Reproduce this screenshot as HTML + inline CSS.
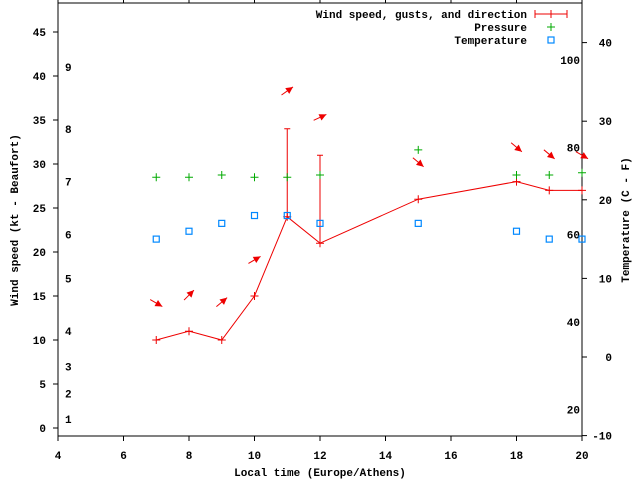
<!DOCTYPE html>
<html><head><meta charset="utf-8"><style>
body{margin:0;background:#fff}
svg text{font-family:"Liberation Mono",monospace;font-weight:bold;font-size:11px}
</style></head><body>
<svg id="c" width="640" height="480" xmlns="http://www.w3.org/2000/svg"></svg>
<script>
const hours=[7,8,9,10,11,12,15,18,19,20];
const windKt=[10,11,10,15,24,21,26,28,27,27];
const gustHours=[11,12];
const gustKt=[34,31];
const pressure=[28.5,28.5,28.75,28.5,28.5,28.75,31.6,28.75,28.75,29.0];
const tempC=[15,16,17,18,18,17,17,16,15,15];
const arrowLevel=[14.2,15.1,14.3,19.1,38.3,35.3,30.2,31.9,31.1,31];
const arrowAngle=[30,-45,-40,-30,-35,-25,40,40,40,30];
const xTicks=[4,6,8,10,12,14,16,18,20];
const yTicks=[0,5,10,15,20,25,30,35,40,45];
const cTicks=[-10,0,10,20,30,40];
const fTicks=[20,40,60,80,100];
const bftLabels=[1,2,3,4,5,6,7,8,9];
const bftKt=[1,3.9,7,11,17,22,28,34,41];

const L=58,R=582,T=3,B=436;
const sx=h=>L+(h-4)*(R-L)/16;
const sy=v=>428-v*8.8;
const sc=c=>357-c*7.86;
const NS="http://www.w3.org/2000/svg";
const svg=document.getElementById('c');
function mk(tag,attrs,parent){const e=document.createElementNS(NS,tag);for(const k in attrs)e.setAttribute(k,attrs[k]);(parent||svg).appendChild(e);return e;}
function txt(x,y,s,anchor,extra){const e=mk('text',Object.assign({x:x,y:y,'text-anchor':anchor||'start'},extra||{}));e.textContent=s;return e;}

let f=mk('rect',{x:L,y:T,width:R-L,height:B-T,fill:'none',stroke:'#000','stroke-width':1});



xTicks.forEach(t=>{
  const x=sx(t);
  let l=mk('line',{x1:x,y1:B,x2:x,y2:B+5,stroke:'#000'});
  
  
  mk('line',{x1:x,y1:T,x2:x,y2:T-5,stroke:'#000'});
  let e=txt(x,459,String(t),'middle');
  
  
});
yTicks.forEach(t=>{
  const y=sy(t);
  let l=mk('line',{x1:L,y1:y,x2:L-5,y2:y,stroke:'#000'});
  
  
  let e=txt(46,y+4,String(t),'end');
  
  
});
cTicks.forEach(t=>{
  const y=sc(t);
  let l=mk('line',{x1:R,y1:y,x2:R+5,y2:y,stroke:'#000'});
  
  
  let e=txt(612,y+4,String(t),'end');
  
  
});
fTicks.forEach(t=>{
  const y=sc((t-32)*5/9);
  let e=txt(580,y+4,String(t),'end');
  
  
});
bftLabels.forEach((b,i)=>{
  let e=txt(65,sy(bftKt[i])+4,String(b),'start');
  
  
});

let t1=txt(0,0,'Wind speed (kt - Beaufort)','middle',{transform:'translate(18,220) rotate(-90)'});


let t2=txt(0,0,'Temperature (C - F)','middle',{transform:'translate(629,220) rotate(-90)'});


let t3=txt(320,476,'Local time (Europe/Athens)','middle');



// gust bars
gustHours.forEach((h,i)=>{
  const j=hours.indexOf(h);const x=sx(h);
  let g=mk('path',{d:`M${x},${sy(windKt[j])}V${sy(gustKt[i])}M${x-3},${sy(gustKt[i])}H${x+3}`,stroke:'#e00',fill:'none'});
  
  
});
// wind line
let pl=mk('polyline',{points:hours.map((h,i)=>sx(h)+','+sy(windKt[i])).join(' '),fill:'none',stroke:'#e00'});


hours.forEach((h,i)=>{
  const x=sx(h),y=sy(windKt[i]);
  let p=mk('path',{d:`M${x-4},${y}H${x+4}M${x},${y-4}V${y+4}`,stroke:'#e00'});
  
  
});
// pressure
hours.forEach((h,i)=>{
  const x=sx(h),y=sy(pressure[i]);
  let p=mk('path',{d:`M${x-4},${y}H${x+4}M${x},${y-4}V${y+4}`,stroke:'#0a0'});
  
  
});
// temperature
hours.forEach((h,i)=>{
  const x=sx(h),y=sc(tempC[i]);
  let p=mk('rect',{x:x-3,y:y-3,width:6,height:6,fill:'none',stroke:'#08f','stroke-width':1.2});
  
  
});
// arrows
hours.forEach((h,i)=>{
  const cx=sx(h),cy=sy(arrowLevel[i]),a=arrowAngle[i]*Math.PI/180;
  const dx=Math.cos(a)*7,dy=Math.sin(a)*7;
  const g=mk('g',{});
  
  
  mk('line',{x1:cx-dx,y1:cy-dy,x2:cx+dx,y2:cy+dy,stroke:'#e00'},g);
  const tx=cx+dx,ty=cy+dy,ux=Math.cos(a),uy=Math.sin(a);
  const bx=tx-ux*7,by=ty-uy*7;
  mk('polygon',{points:`${tx},${ty} ${bx-uy*3.5},${by+ux*3.5} ${bx+uy*3.5},${by-ux*3.5}`,fill:'#e00'},g);
});
// legend
const lg=mk('g',{});


[['Wind speed, gusts, and direction',18],['Pressure',31],['Temperature',44]].forEach((r,i)=>{
  const e=txt(527,r[1],r[0],'end');lg.appendChild(e);
  
  
});
mk('path',{d:'M535,14H567M535,10V18M567,10V18M551,10V18',stroke:'#e00',fill:'none'},lg);
mk('path',{d:'M547,27H555M551,23V31',stroke:'#0a0'},lg);
mk('rect',{x:548,y:37,width:6,height:6,fill:'none',stroke:'#08f','stroke-width':1.2},lg);
</script>
</body></html>
